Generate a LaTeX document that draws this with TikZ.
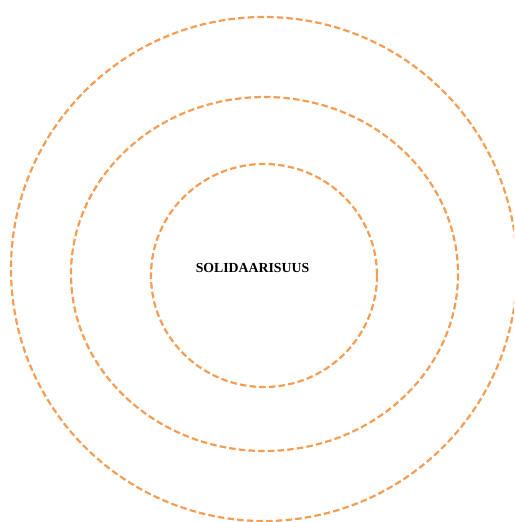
\documentclass[tikz,border=0pt]{standalone}
\usepackage{fontspec}
\setmainfont{Liberation Serif}
\definecolor{ringorange}{RGB}{245,157,82}
\begin{document}
\begin{tikzpicture}[x=1pt,y=-1pt,
  ring/.style={draw=ringorange,line width=2.2pt,dash pattern=on 6.5pt off 3.2pt}]
\useasboundingbox (0,0) rectangle (514,522);
\begin{scope}
\clip (0,0) rectangle (514,522);
\draw[ring] (264,269) ellipse [x radius=253,y radius=252];
\end{scope}
\draw[ring] (264.5,274) ellipse [x radius=193.5,y radius=177];
\draw[ring] (264,275.5) ellipse [x radius=113,y radius=111.5];
\node[font=\bfseries\fontsize{13.8}{15}\selectfont,inner sep=0pt] (label) at (252.5,268) {SOLIDAARISUUS};
\end{tikzpicture}
\end{document}
